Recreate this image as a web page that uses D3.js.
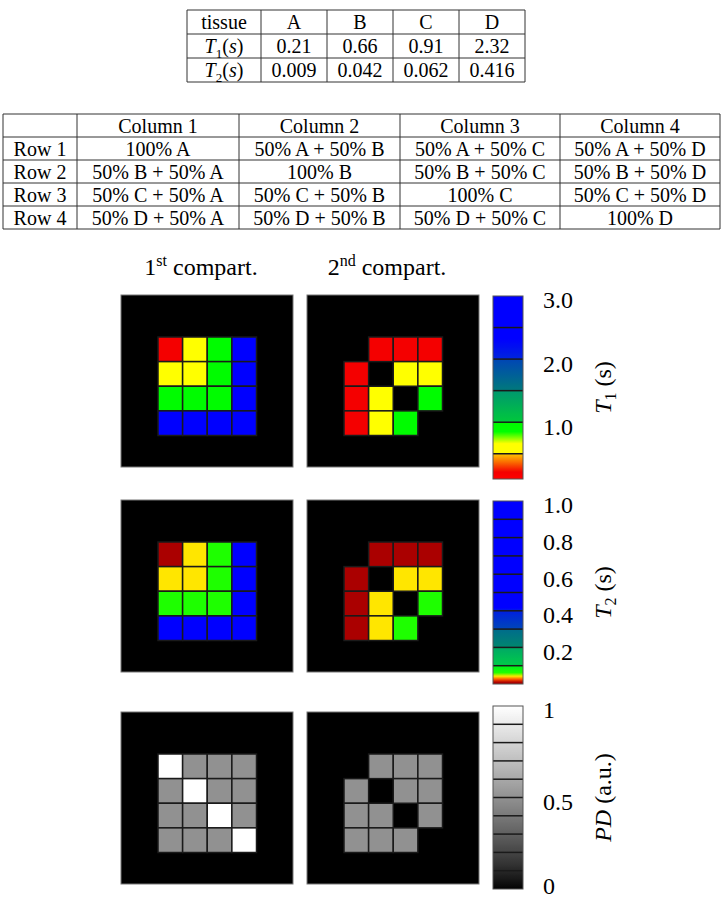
<!DOCTYPE html>
<html>
<head>
<meta charset="utf-8">
<script src="https://cdn.jsdelivr.net/npm/d3@7"></script>
<style>
  body { margin: 0; background: #fff; }
</style>
</head>
<body>
<div id="chart"></div>
<script>
// tissue parameters
var tissues = ['A', 'B', 'C', 'D'];
var t1Values = [0.21, 0.66, 0.91, 2.32];
var t2Values = [0.009, 0.042, 0.062, 0.416];

// mixture table
var columnLabels = ['Column 1', 'Column 2', 'Column 3', 'Column 4'];
var rowLabels = ['Row 1', 'Row 2', 'Row 3', 'Row 4'];
var mixtures = [
  ['100% A', '50% A + 50% B', '50% A + 50% C', '50% A + 50% D'],
  ['50% B + 50% A', '100% B', '50% B + 50% C', '50% B + 50% D'],
  ['50% C + 50% A', '50% C + 50% B', '100% C', '50% C + 50% D'],
  ['50% D + 50% A', '50% D + 50% B', '50% D + 50% C', '100% D']
];

// tissue in each compartment (null = no second compartment)
var comp1 = [
  ['A', 'B', 'C', 'D'],
  ['B', 'B', 'C', 'D'],
  ['C', 'C', 'C', 'D'],
  ['D', 'D', 'D', 'D']
];
var comp2 = [
  [null, 'A', 'A', 'A'],
  ['A', null, 'B', 'B'],
  ['A', 'B', null, 'C'],
  ['A', 'B', 'C', null]
];
var pd1 = [
  [1, 0.5, 0.5, 0.5],
  [0.5, 1, 0.5, 0.5],
  [0.5, 0.5, 1, 0.5],
  [0.5, 0.5, 0.5, 1]
];
var pd2 = [
  [0, 0.5, 0.5, 0.5],
  [0.5, 0, 0.5, 0.5],
  [0.5, 0.5, 0, 0.5],
  [0.5, 0.5, 0.5, 0]
];

var t1Ticks = [1.0, 2.0, 3.0];
var t2Ticks = [0.2, 0.4, 0.6, 0.8, 1.0];
var pdTicks = [0, 0.5, 1];

var width = 723, height = 900;

var svg = d3.select('#chart').append('svg')
  .attr('width', width)
  .attr('height', height)
  .attr('font-family', "'Liberation Serif', 'Times New Roman', 'DejaVu Serif', serif");

// colormaps
var t1Color = d3.scaleLinear()
  .domain([0.1, 0.21, 0.49, 0.51, 0.66, 0.85, 0.99, 1.01, 1.49, 1.51, 1.99, 2.01, 2.32, 3.0])
  .range(['#ff0000', '#f40000', '#ffc000', '#ffff00', '#ffff00', '#00ff00', '#00f800', '#00c83c',
          '#00986e', '#00787c', '#0046b4', '#0024dc', '#0000ff', '#0000ff'])
  .clamp(true);

var t2Color = d3.scaleLinear()
  .domain([0, 0.009, 0.025, 0.042, 0.062, 0.099, 0.101, 0.199, 0.201, 0.299, 0.301, 0.399, 0.416, 1.0])
  .range(['#b00000', '#aa0000', '#ff5000', '#ffe600', '#1eff00', '#00f020', '#00cc48', '#00a866',
          '#00866e', '#006c8c', '#0046b8', '#0020e0', '#0000ff', '#0000ff'])
  .clamp(true);

var pdColor = d3.scaleLinear()
  .domain([0, 1])
  .range(['#000000', '#ffffff'])
  .interpolate(d3.interpolateRgb.gamma(1.23));

// ---------- tables ----------
function drawTable(xEdges, yEdges, rows, fontSize) {
  var g = svg.append('g');
  xEdges.forEach(function(x) {
    g.append('line').attr('x1', x).attr('x2', x)
      .attr('y1', yEdges[0]).attr('y2', yEdges[yEdges.length - 1])
      .attr('stroke', '#333').attr('stroke-width', 1);
  });
  yEdges.forEach(function(y) {
    g.append('line').attr('y1', y).attr('y2', y)
      .attr('x1', xEdges[0]).attr('x2', xEdges[xEdges.length - 1])
      .attr('stroke', '#333').attr('stroke-width', 1);
  });
  rows.forEach(function(row, r) {
    row.forEach(function(cell, c) {
      var t = g.append('text')
        .attr('x', (xEdges[c] + xEdges[c + 1]) / 2)
        .attr('y', (yEdges[r] + yEdges[r + 1]) / 2 + 7)
        .attr('text-anchor', 'middle')
        .style('font-size', fontSize + 'px');
      if (typeof cell === 'function') cell(t);
      else t.text(cell);
    });
  });
}

function relaxLabel(sub) {
  return function(t) {
    t.append('tspan').style('font-style', 'italic').text('T');
    t.append('tspan').attr('dy', 5).style('font-size', '13px').text(sub);
    t.append('tspan').attr('dy', -5).text('(');
    t.append('tspan').style('font-style', 'italic').text('s');
    t.append('tspan').text(')');
  };
}

var fmt3 = function(v) { return String(v); };
drawTable([187, 261, 327, 393, 459, 525], [10, 34, 58, 82], [
  ['tissue'].concat(tissues),
  [relaxLabel('1')].concat(t1Values.map(fmt3)),
  [relaxLabel('2')].concat(t2Values.map(fmt3))
], 20);

drawTable([3, 77, 239, 400, 560, 720], [114, 137, 160, 183, 206, 229],
  [[''].concat(columnLabels)].concat(mixtures.map(function(row, i) {
    return [rowLabels[i]].concat(row);
  })), 20);

// ---------- maps ----------
var panelX = [121, 307];
var panelY = [295, 500, 712];
var panelSize = 172;

var cellX = d3.scaleBand().domain(d3.range(4)).range([37, 135.5]);
var cellY = d3.scaleBand().domain(d3.range(4)).range([42, 140.5]);

// column headers
var headers = [['1', 'st'], ['2', 'nd']];
headers.forEach(function(h, i) {
  var t = svg.append('text')
    .attr('x', panelX[i] + panelSize / 2 - 6)
    .attr('y', 275)
    .attr('text-anchor', 'middle')
    .style('font-size', '24px');
  t.append('tspan').text(h[0]);
  t.append('tspan').attr('dy', -9).style('font-size', '16px').text(h[1]);
  t.append('tspan').attr('dy', 9).text(' compart.');
});

function lookup(values) {
  return function(r) {
    return r.map(function(k) { return k && values[tissues.indexOf(k)]; });
  };
}

var maps = [
  { values: [comp1.map(lookup(t1Values)), comp2.map(lookup(t1Values))], color: t1Color },
  { values: [comp1.map(lookup(t2Values)), comp2.map(lookup(t2Values))], color: t2Color },
  { values: [pd1, pd2], color: pdColor }
];

maps.forEach(function(m, row) {
  m.values.forEach(function(grid, col) {
    var g = svg.append('g')
      .attr('transform', 'translate(' + panelX[col] + ',' + panelY[row] + ')');
    g.append('rect')
      .attr('width', panelSize).attr('height', panelSize)
      .attr('fill', '#000')
      .attr('stroke', '#777').attr('stroke-width', 1);
    var cells = [];
    grid.forEach(function(r, i) {
      r.forEach(function(v, j) {
        if (v !== null && v !== 0) cells.push({ i: i, j: j, v: v });
      });
    });
    g.selectAll('rect.cell')
      .data(cells)
      .enter().append('rect')
      .attr('class', 'cell')
      .attr('x', function(d) { return cellX(d.j); })
      .attr('y', function(d) { return cellY(d.i); })
      .attr('width', cellX.bandwidth())
      .attr('height', cellY.bandwidth())
      .attr('fill', function(d) { return m.color(d.v); })
      .attr('stroke', '#1a1a1a')
      .attr('stroke-width', 1.5);
  });
});

// ---------- colorbars ----------
var bars = [
  { color: t1Color, domain: [0.1, 3.0], range: [479, 296], step: 0.5, ticks: t1Ticks,
    fmt: d3.format('.1f'), title: 'T', sub: '1', unit: ' (s)' },
  { color: t2Color, domain: [0, 1.0], range: [684, 501], step: 0.1, ticks: t2Ticks,
    fmt: d3.format('.1f'), title: 'T', sub: '2', unit: ' (s)' },
  { color: pdColor, domain: [0, 1], range: [889, 706], step: 0.1, ticks: pdTicks,
    fmt: function(v) { return String(v); }, title: 'PD', sub: '', unit: ' (a.u.)' }
];

var defs = svg.append('defs');
var barX = 493, barW = 30;

bars.forEach(function(b, k) {
  var y = d3.scaleLinear().domain(b.domain).range(b.range);
  var grad = defs.append('linearGradient')
    .attr('id', 'cbar' + k)
    .attr('x1', 0).attr('y1', 1).attr('x2', 0).attr('y2', 0);
  var n = 300;
  d3.range(n + 1).forEach(function(s) {
    var v = b.domain[0] + (b.domain[1] - b.domain[0]) * s / n;
    grad.append('stop')
      .attr('offset', (s / n * 100) + '%')
      .attr('stop-color', b.color(v));
  });

  svg.append('rect')
    .attr('x', barX).attr('y', y(b.domain[1]))
    .attr('width', barW).attr('height', y(b.domain[0]) - y(b.domain[1]))
    .attr('fill', 'url(#cbar' + k + ')');

  var bounds = d3.range(Math.ceil(b.domain[0] / b.step + 1e-9), Math.round(b.domain[1] / b.step))
    .map(function(i) { return i * b.step; });
  svg.selectAll('line.bnd' + k)
    .data(bounds)
    .enter().append('line')
    .attr('x1', barX).attr('x2', barX + barW)
    .attr('y1', function(d) { return y(d); })
    .attr('y2', function(d) { return y(d); })
    .attr('stroke', '#1a1a1a').attr('stroke-width', 1.5);

  svg.append('rect')
    .attr('x', barX).attr('y', y(b.domain[1]))
    .attr('width', barW).attr('height', y(b.domain[0]) - y(b.domain[1]))
    .attr('fill', 'none').attr('stroke', '#555').attr('stroke-width', 1);

  svg.selectAll('text.tick' + k)
    .data(b.ticks)
    .enter().append('text')
    .attr('x', 543)
    .attr('y', function(d) { return Math.min(y(d) + 4, 886); })
    .attr('dy', '0.35em')
    .style('font-size', '24px')
    .text(b.fmt);

  var cy = (b.range[0] + b.range[1]) / 2;
  var t = svg.append('text')
    .attr('transform', 'translate(611,' + cy + ') rotate(-90)')
    .attr('text-anchor', 'middle')
    .style('font-size', '24px');
  t.append('tspan').style('font-style', 'italic').text(b.title);
  if (b.sub) {
    t.append('tspan').attr('dy', 5).style('font-size', '16px').text(b.sub);
    t.append('tspan').attr('dy', -5).text(b.unit);
  } else {
    t.append('tspan').text(b.unit);
  }
});
</script>
</body>
</html>
